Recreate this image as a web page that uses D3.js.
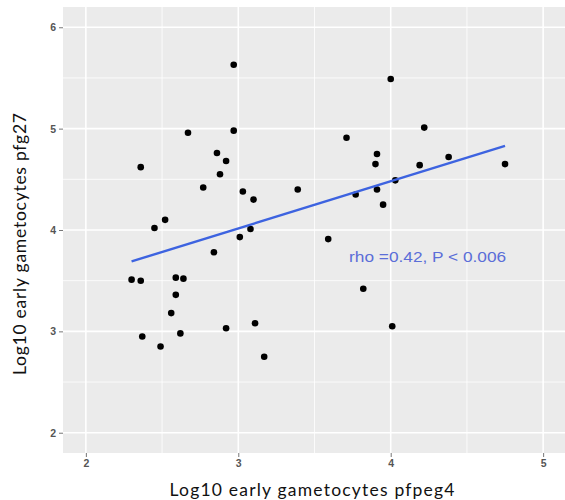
<!DOCTYPE html>
<html>
<head>
    <title>pfpeg4 vs pfg27</title>
    <script src="https://d3js.org/d3.v7.min.js"></script>
    <style>
        body { margin: 0; background: #fff; }
        .tick-label { font-family: "Liberation Sans", Arial, sans-serif; font-size: 10.5px; font-weight: bold; fill: #555; }
        .axis-title { font-family: Lato, "Open Sans", sans-serif; font-size: 17.5px; fill: #111; }
    </style>
</head>
<body>
    <svg id="chart" width="565" height="500"></svg>

    <script>
    // early gametocytes, log10
    var pfpeg4 = [2.97, 2.67, 2.97, 3.71, 2.36, 2.86, 2.92, 2.88, 2.77, 3.03,
                  3.39, 3.10, 2.52, 2.45, 3.08, 3.01, 3.59, 2.84, 2.30, 2.36,
                  2.59, 2.64, 2.59, 2.56, 2.92, 3.11, 2.37, 2.62, 2.49, 3.17,
                  4.00, 4.22, 3.91, 3.90, 4.19, 4.38, 4.75, 3.77, 3.91, 4.03,
                  3.95, 3.82, 4.01];
    var pfg27  = [5.63, 4.96, 4.98, 4.91, 4.62, 4.76, 4.68, 4.55, 4.42, 4.38,
                  4.40, 4.30, 4.10, 4.02, 4.01, 3.93, 3.91, 3.78, 3.51, 3.50,
                  3.53, 3.52, 3.36, 3.18, 3.03, 3.08, 2.95, 2.98, 2.85, 2.75,
                  5.49, 5.01, 4.75, 4.65, 4.64, 4.72, 4.65, 4.35, 4.40, 4.49,
                  4.25, 3.42, 3.05];

    // fitted line ends
    var fitX = [2.30, 4.75];
    var fitY = [3.69, 4.83];

    var xTicks = [2, 3, 4, 5];
    var yTicks = [2, 3, 4, 5, 6];
    var xMinor = [2.5, 3.5, 4.5];
    var yMinor = [2.5, 3.5, 4.5, 5.5];

    var label = "rho =0.42, P < 0.006";

    var svg = d3.select('#chart');

    var x = d3.scaleLinear().domain([1.85, 5.15]).range([63, 566]);
    var y = d3.scaleLinear().domain([1.8, 6.2]).range([453, 7]);

    // panel
    svg.append('rect')
        .attr('x', x(1.85)).attr('y', y(6.2))
        .attr('width', x(5.15) - x(1.85))
        .attr('height', y(1.8) - y(6.2))
        .attr('fill', '#ebebeb');

    var grid = svg.append('g');

    grid.selectAll('.vminor').data(xMinor).enter().append('line')
        .attr('x1', d => x(d)).attr('x2', d => x(d))
        .attr('y1', y(6.2)).attr('y2', y(1.8))
        .attr('stroke', '#fff').attr('stroke-width', 0.8);
    grid.selectAll('.hminor').data(yMinor).enter().append('line')
        .attr('y1', d => y(d)).attr('y2', d => y(d))
        .attr('x1', x(1.85)).attr('x2', x(5.15))
        .attr('stroke', '#fff').attr('stroke-width', 0.8);
    grid.selectAll('.vmajor').data(xTicks).enter().append('line')
        .attr('x1', d => x(d)).attr('x2', d => x(d))
        .attr('y1', y(6.2)).attr('y2', y(1.8))
        .attr('stroke', '#fff').attr('stroke-width', 1.6);
    grid.selectAll('.hmajor').data(yTicks).enter().append('line')
        .attr('y1', d => y(d)).attr('y2', d => y(d))
        .attr('x1', x(1.85)).attr('x2', x(5.15))
        .attr('stroke', '#fff').attr('stroke-width', 1.6);

    // axes
    var xAxis = svg.append('g')
        .attr('transform', `translate(0, ${y(1.8)})`)
        .call(d3.axisBottom(x).tickValues(xTicks).tickSize(4).tickPadding(3).tickFormat(d3.format('d')));
    var yAxis = svg.append('g')
        .attr('transform', `translate(${x(1.85)}, 0)`)
        .call(d3.axisLeft(y).tickValues(yTicks).tickSize(4).tickPadding(3).tickFormat(d3.format('d')));

    [xAxis, yAxis].forEach(function(a) {
        a.select('.domain').remove();
        a.selectAll('.tick line').attr('stroke', '#777').attr('stroke-width', 1);
        a.selectAll('.tick text').attr('class', 'tick-label').attr('fill', null);
        a.attr('font-family', null).attr('font-size', null);
    });

    // points
    var pts = pfpeg4.map(function(d, i) { return { x: d, y: pfg27[i] }; });
    svg.append('g').selectAll('circle').data(pts).enter().append('circle')
        .attr('cx', d => x(d.x))
        .attr('cy', d => y(d.y))
        .attr('r', 3.3)
        .attr('fill', '#000');

    // regression line
    svg.append('line')
        .attr('x1', x(fitX[0])).attr('y1', y(fitY[0]))
        .attr('x2', x(fitX[1])).attr('y2', y(fitY[1]))
        .attr('stroke', '#3d63e0')
        .attr('stroke-width', 2.4);

    svg.append('text')
        .attr('x', x(3.727))
        .attr('y', y(3.68))
        .attr('fill', '#5b6ed8')
        .attr('font-family', '"Liberation Sans", Arial, sans-serif')
        .attr('font-size', '14px')
        .attr('textLength', 157)
        .attr('lengthAdjust', 'spacingAndGlyphs')
        .text(label);

    // axis titles
    svg.append('text')
        .attr('class', 'axis-title')
        .attr('x', 312)
        .attr('y', 496)
        .attr('text-anchor', 'middle')
        .attr('textLength', 285)
        .text('Log10 early gametocytes pfpeg4');

    svg.append('text')
        .attr('class', 'axis-title')
        .attr('transform', 'rotate(-90)')
        .attr('x', -244)
        .attr('y', 26)
        .attr('text-anchor', 'middle')
        .attr('textLength', 262)
        .text('Log10 early gametocytes pfg27');
    </script>
</body>
</html>
